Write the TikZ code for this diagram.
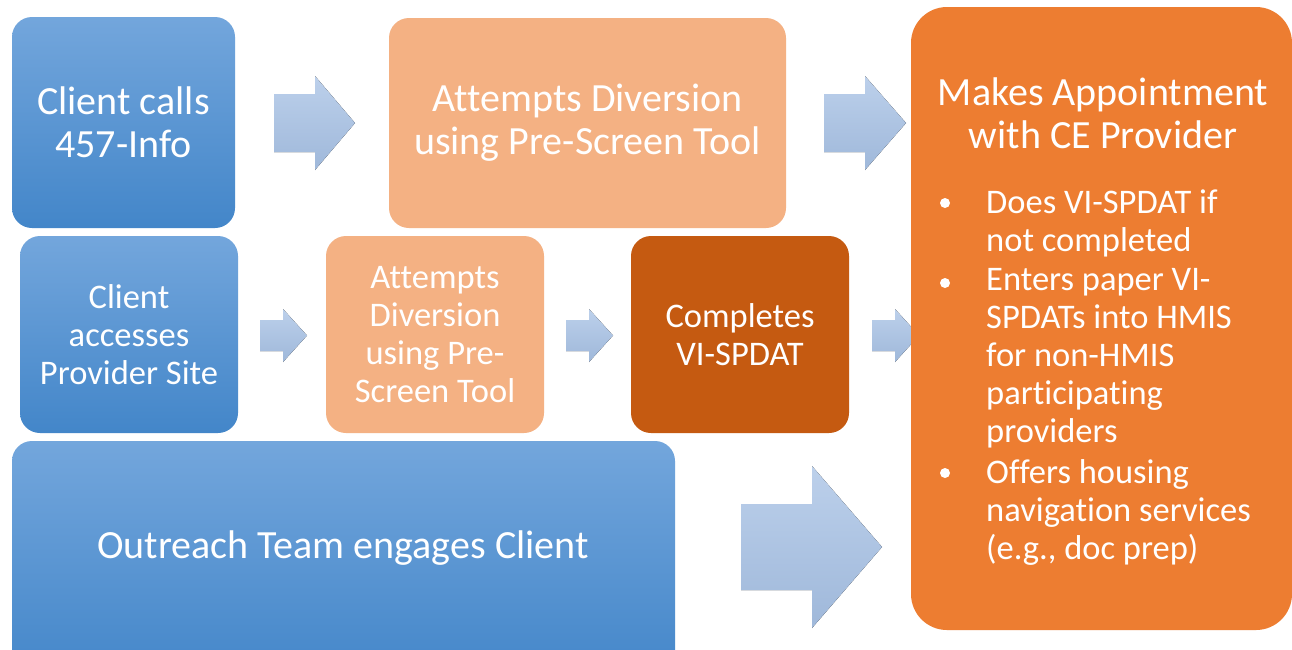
\documentclass[tikz,border=0pt]{standalone}
\usepackage{fontspec}
\setmainfont[Ligatures=NoCommon]{Carlito}
\definecolor{bluetop}{HTML}{73A6DC}
\definecolor{bluebot}{HTML}{4386C9}
\definecolor{lightor}{HTML}{F4B183}
\definecolor{midor}{HTML}{ED7D31}
\definecolor{darkor}{HTML}{C55A11}
\definecolor{arrtop}{HTML}{BCD0EB}
\definecolor{arrbot}{HTML}{9FB8DA}
\tikzset{
  box/.style={rectangle, rounded corners=20pt, draw=none, inner sep=0pt, text=white, align=center},
  bluebox/.style={box, top color=bluetop, bottom color=bluebot},
  lightbox/.style={box, fill=lightor},
  darkbox/.style={box, fill=darkor},
  bigbox/.style={box, fill=midor, rounded corners=36pt},
  blockarrow/.style={draw=none, top color=arrtop, bottom color=arrbot},
  bigfont/.style={font=\fontsize{40}{43}\selectfont},
  midfont/.style={font=\fontsize{34.5}{38}\selectfont},
  listfont/.style={font=\fontsize{34.5}{38}\selectfont, text=white, anchor=base west, inner sep=0pt, align=left},
  bulletdot/.style={circle, fill=white, draw=none, minimum size=10pt, inner sep=0pt}
}
\begin{document}
\begin{tikzpicture}[x=1pt,y=-1pt]
\clip (0,0) rectangle (1292,649);
\fill[white] (0,0) rectangle (1292,649);
% block arrows
\fill[blockarrow] (274,94) -- (315,94) -- (315,76) -- (355,123) -- (315,170) -- (315,152) -- (274,152) -- cycle;
\fill[blockarrow] (824,94) -- (865,94) -- (865,76) -- (906,123) -- (865,170) -- (865,152) -- (824,152) -- cycle;
\fill[blockarrow] (260,320) -- (283,320) -- (283,309) -- (307,335.5) -- (283,362) -- (283,351) -- (260,351) -- cycle;
\fill[blockarrow] (566,320) -- (589,320) -- (589,309) -- (613,335.5) -- (589,362) -- (589,351) -- (566,351) -- cycle;
\fill[blockarrow] (872,320) -- (895,320) -- (895,309) -- (919,335.5) -- (895,362) -- (895,351) -- (872,351) -- cycle;
\fill[blockarrow] (741,504) -- (812,504) -- (812,466) -- (882,547) -- (812,628) -- (812,590) -- (741,590) -- cycle;
% boxes
\node[bluebox, bigfont, minimum width=223pt, minimum height=211pt] (calls) at (123.5,122.5) {Client calls\\457-Info};
\node[lightbox, bigfont, minimum width=397pt, minimum height=210pt] (div1) at (587.5,123) {Attempts Diversion\\using Pre-Screen Tool};
\node[bluebox, midfont, minimum width=218pt, minimum height=197pt] (site) at (129,334.5) {Client\\accesses\\Provider Site};
\node[lightbox, midfont, minimum width=218pt, minimum height=197pt] (div2) at (435,334.5) {Attempts\\Diversion\\using Pre-\\Screen Tool};
\node[darkbox, midfont, minimum width=218pt, minimum height=197pt] (vi) at (740,334.5) {Completes\\VI-SPDAT};
\node[bluebox, minimum width=663pt, minimum height=240pt] (out) at (343.5,561) {};
\node[bigfont, text=white, inner sep=0pt] (outtxt) at (343,548) {Outreach Team engages Client};
\node[bigbox, minimum width=381pt, minimum height=623pt] (ce) at (1101.5,318.5) {};
\node[bigfont, text=white, inner sep=0pt, align=center] (cetitle) at (1103,113) {Makes Appointment\\with CE Provider};
% bullet list
\node[bulletdot] (b1) at (945,203) {};
\node[listfont] (i1) at (986,251) {Does VI-SPDAT if\\not completed};
\node[bulletdot] (b2) at (945,283) {};
\node[listfont] (i2) at (986,442) {Enters paper VI-\\SPDATs into HMIS\\for non-HMIS\\participating\\providers};
\node[bulletdot] (b3) at (945,473) {};
\node[listfont] (i3) at (986,559) {Offers housing\\navigation services\\(e.g., doc prep)};
\end{tikzpicture}
\end{document}
